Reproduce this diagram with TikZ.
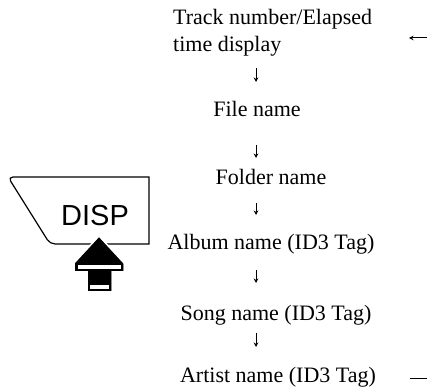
\documentclass[tikz,border=0pt]{standalone}
\usepackage{fontspec}
\setmainfont{Liberation Serif}
\newfontfamily\dispfont{Liberation Sans}
\usepackage{tikz}
\usetikzlibrary{arrows.meta, positioning}

\begin{document}
\begin{tikzpicture}[x=1pt, y=1pt,
	lbl/.style={inner sep=0pt, anchor=base, font=\fontsize{22}{28}\selectfont},
	fl/.style={-{Stealth[length=4.5pt, width=4.5pt]}, line width=1pt},
	loop/.style={line width=1pt}]

	\useasboundingbox (0,0) rectangle (427,390);

	% display modes
	\node[lbl, anchor=base west] (trk)  at (173,365) {Track number/Elapsed};
	\node[lbl, anchor=base west] (trk2) at (173,338) {time display};
	\node[lbl] (file)   at (257,273) {File name};
	\node[lbl] (folder) at (271,205) {Folder name};
	\node[lbl] (album)  at (271,140) {Album name (ID3 Tag)};
	\node[lbl] (song)   at (276,70)  {Song name (ID3 Tag)};
	\node[lbl] (artist) at (278,8)   {Artist name (ID3 Tag)};

	\coordinate (a1s) at (256,322); \coordinate (a1e) at (256,308);
	\coordinate (a2s) at (256,245); \coordinate (a2e) at (256,232);
	\coordinate (a3s) at (256,187); \coordinate (a3e) at (256,175);
	\coordinate (a4s) at (256,120); \coordinate (a4e) at (256,107);
	\coordinate (a5s) at (256,57);  \coordinate (a5e) at (256,43);
	\draw[fl] (a1s)--(a1e); \draw[fl] (a2s)--(a2e); \draw[fl] (a3s)--(a3e);
	\draw[fl] (a4s)--(a4e); \draw[fl] (a5s)--(a5e);

	% return loop (leaves the picture on the right)
	\coordinate (rt) at (427,352); \coordinate (rte) at (409,352);
	\coordinate (rb) at (410,12);  \coordinate (rbe) at (427,12);
	\draw[fl] (rt)--(rte);
	\draw[loop] (rb)--(rbe);

	% DISP button
	\draw[line width=1.2pt] (149,146) -- (149,213)
		[rounded corners=5pt] -- (8,213) -- (50,146) [sharp corners] -- cycle;
	\node[inner sep=0pt, font=\dispfont\fontsize{29}{29}\selectfont] (disp) at (95,174) {DISP};

	% push arrow
	\filldraw[fill=black, draw=white, line width=1.5pt]
		(99,154) -- (74,127) -- (74,118) -- (87,118) -- (87,98) -- (112,98)
		-- (112,118) -- (124,118) -- (124,127) -- cycle;
	\fill[black] (99,152) -- (75,126) -- (75,119) -- (88,119) -- (88,99) -- (111,99)
		-- (111,119) -- (123,119) -- (123,126) -- cycle;
	\fill[white] (77.5,121) rectangle (120.5,125);
	\fill[white] (90,101) rectangle (109,105);
\end{tikzpicture}
\end{document}
